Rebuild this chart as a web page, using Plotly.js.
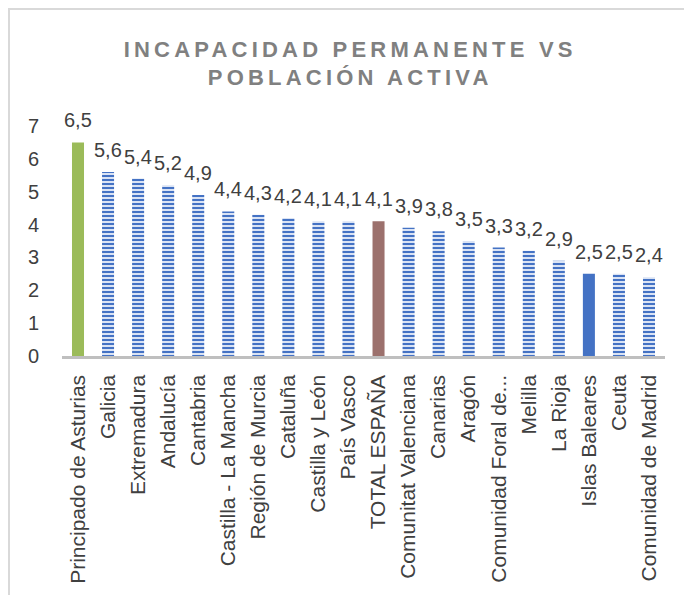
<!DOCTYPE html>
<html>
<head>
<meta charset="utf-8">
<script src="https://cdn.plot.ly/plotly-3.0.1.min.js"></script>
<style>
  html, body { margin: 0; padding: 0; background: #fff; }
  #frame { position: absolute; left: 8px; top: 8px; width: 720px; height: 640px; border: 2px solid #D9D9D9; box-sizing: border-box; }
  #chart { position: absolute; left: 0; top: 0; width: 684px; height: 595px; }
  .gtitle { letter-spacing: 4.2px; }
</style>
</head>
<body>
<div id="frame"></div>
<div id="chart"></div>
<script>
const categories = [
  "Principado de Asturias", "Galicia", "Extremadura", "Andalucía", "Cantabria",
  "Castilla - La Mancha", "Región de Murcia", "Cataluña", "Castilla y León", "País Vasco",
  "TOTAL ESPAÑA", "Comunitat Valenciana", "Canarias", "Aragón", "Comunidad Foral de...",
  "Melilla", "La Rioja", "Islas Baleares", "Ceuta", "Comunidad de Madrid"
];
const values = [6.5, 5.6, 5.4, 5.2, 4.9, 4.4, 4.3, 4.2, 4.1, 4.1, 4.1, 3.9, 3.8, 3.5, 3.3, 3.2, 2.9, 2.5, 2.5, 2.4];
const yTicks = [0, 1, 2, 3, 4, 5, 6, 7];

const barColors = categories.map(c =>
  c === "Principado de Asturias" ? "#9BBB59" :
  c === "TOTAL ESPAÑA" ? "#9C716D" : "#4472C4");
const patternShapes = categories.map(c =>
  (c === "Principado de Asturias" || c === "TOTAL ESPAÑA" || c === "Islas Baleares") ? "" : "-");

const trace = {
  type: "bar",
  x: categories,
  y: values,
  marker: {
    color: barColors,
    line: { width: 0 },
    pattern: { shape: patternShapes, fgcolor: "#4472C4", bgcolor: "#94AFDF", size: 4, solidity: 0.6 }
  },
  hoverinfo: "x+y"
};

const annotations = categories.map((c, i) => ({
  x: c, y: values[i], xref: "x", yref: "y",
  text: values[i].toFixed(1).replace(".", ","),
  showarrow: false, yanchor: "bottom", yshift: 9,
  font: { family: "Liberation Sans, Arial, sans-serif", size: 20, color: "#404040" }
}));

const layout = {
  width: 684, height: 595,
  paper_bgcolor: "rgba(0,0,0,0)", plot_bgcolor: "rgba(0,0,0,0)",
  margin: { l: 62, r: 19, t: 126, b: 239 },
  bargap: 0.6,
  showlegend: false,
  separators: ",.",
  title: {
    text: "INCAPACIDAD PERMANENTE VS<br>POBLACIÓN ACTIVA",
    x: 0.512, xanchor: "center", xref: "container",
    y: 0.905, yanchor: "top", yref: "container",
    font: { family: "Liberation Sans, Arial, sans-serif", size: 22, color: "#808080", weight: "bold" }
  },
  xaxis: {
    type: "category",
    tickangle: -90,
    showline: true, linecolor: "#BFBFBF", linewidth: 2.5,
    showgrid: false, zeroline: false,
    ticks: "outside", ticklen: 8, tickcolor: "rgba(0,0,0,0)",
    tickfont: { family: "Liberation Sans, Arial, sans-serif", size: 21, color: "#404040" }
  },
  yaxis: {
    range: [0, 7],
    tickvals: yTicks,
    ticktext: yTicks.map(String),
    showline: false, showgrid: false, zeroline: false,
    ticks: "outside", ticklen: 18, tickcolor: "rgba(0,0,0,0)",
    tickfont: { family: "Liberation Sans, Arial, sans-serif", size: 20, color: "#404040" }
  },
  annotations: annotations
};

Plotly.newPlot("chart", [trace], layout, { displayModeBar: false, staticPlot: true });
</script>
</body>
</html>
